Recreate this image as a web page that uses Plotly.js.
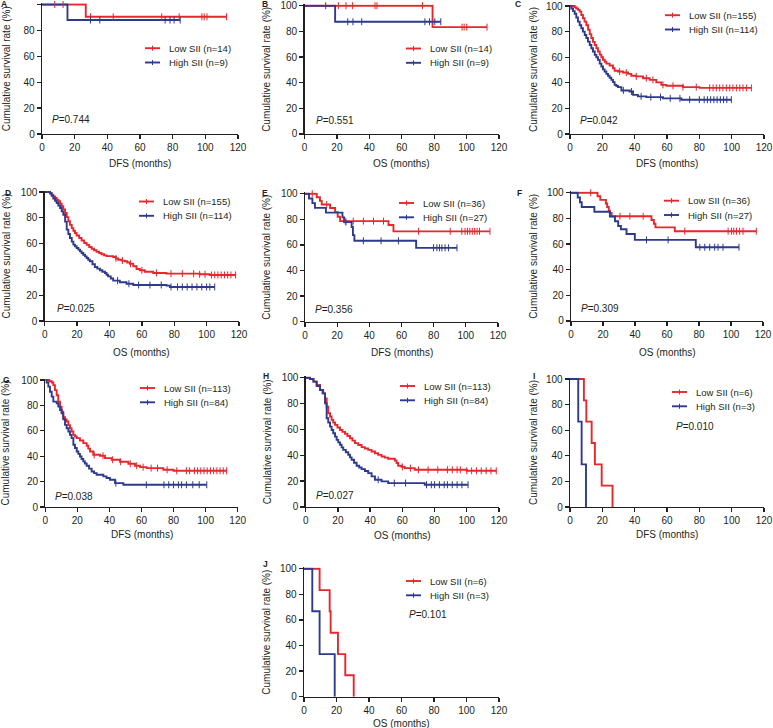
<!DOCTYPE html>
<html><head><meta charset="utf-8">
<script src="https://cdn.plot.ly/plotly-3.0.1.min.js"></script>
<style>html,body{margin:0;padding:0;background:#fff}#chart{width:773px;height:728px}</style>
</head><body><div id="chart"></div>
<script>
// ---------- DATA (months, % survival) ----------
const panel_letters = ['A','B','C','D','E','F','G','H','I','J'];
const x_titles = ['DFS (months)','OS (months)','DFS (months)','OS (months)','DFS (months)','OS (months)','DFS (months)','OS (months)','DFS (months)','OS (months)'];
const p_values = ['0.744','0.551','0.042','0.025','0.356','0.309','0.038','0.027','0.010','0.101'];
const low_n = [14,14,155,155,36,36,113,113,6,6];
const high_n = [9,9,114,114,27,27,84,84,3,3];
const x_ticks = [0,20,40,60,80,100,120];
const y_ticks = [0,20,40,60,80,100];

const A_low_t = [0, 26.8, 113];
const A_low_s = [100, 90.5, 90.5];
const A_low_c = [7.8, 12.9, 29.7, 43.6, 73.3, 84, 97.9, 99.3, 101, 113];
const A_high_t = [0, 15.6, 84.6];
const A_high_s = [100, 88, 88];
const A_high_c = [29.7, 35.4, 75.4, 78.4, 80.9, 84.6];

const B_low_t = [0, 79, 112.6];
const B_low_s = [100, 83.3, 83.3];
const B_low_c = [20.9, 25.6, 29.7, 43.5, 44.7, 72.8, 97.2, 98.5, 100.1, 112.6];
const B_high_t = [0, 18.9, 84.1];
const B_high_s = [100, 87.5, 87.5];
const B_high_c = [13.1, 26.7, 29.9, 35.3, 74.3, 77.1, 80.4, 84.1];

const C_low_t = [0, 2.9, 3.9, 5, 6, 7, 8, 9, 10.1, 11.2, 12.2, 13.2, 14.2, 15.3, 16.3, 17.3, 18.4, 19.4, 20.4, 21.5, 22.5, 24.5, 26.6, 27.6, 29.7, 32.8, 35.9, 37.9, 41, 45.2, 49.3, 53.4, 56.5, 59.6, 69.9, 80.2, 112.2];
const C_low_s = [100, 99, 98, 97, 95.6, 93, 90.4, 87.8, 85, 81.5, 78, 75, 72, 69.5, 67, 64.5, 62, 60, 58, 56.5, 55, 53.5, 51.4, 49.4, 48.8, 48, 47, 45.5, 45, 43.6, 42.3, 40.3, 38.4, 37.7, 36.6, 36, 36];
const C_low_c = [30.7, 34.8, 41, 47.2, 51.3, 57.5, 63.7, 69.9, 78.1, 86.4, 88.5, 90.5, 92.6, 94.6, 96.7, 98.8, 100.8, 102.9, 105, 107, 109.1, 112.2];
const C_high_t = [0, 0.8, 1.9, 2.9, 3.9, 4.9, 6, 7, 8, 9.1, 10.1, 11.1, 12.2, 13.2, 14.2, 15.3, 16.3, 17.3, 18.4, 19.4, 20.4, 21.4, 22.5, 23.5, 24.5, 25.6, 26.6, 27.6, 28.7, 29.7, 31.8, 36.9, 39, 42, 47.2, 57.5, 68.9, 99.8];
const C_high_s = [100, 98, 96, 94, 91, 87.8, 85, 82.6, 80, 77.4, 75, 72.2, 69.5, 67, 64.5, 61.8, 60, 57.9, 55, 52.7, 50.5, 48.8, 47, 45.5, 44, 42.3, 40.5, 38.4, 37.5, 36.6, 34, 33.2, 30.6, 29.4, 28.8, 27.8, 26.8, 26.8];
const C_high_c = [33, 38, 44, 50, 56, 62, 68, 74, 80, 83, 85, 87, 89, 91, 93, 95, 97, 99.8];

const D_low_t = [0, 3.3, 4.3, 5.3, 6.4, 7.4, 8.4, 9.5, 10.5, 11.5, 12.6, 13.6, 14.6, 15.6, 16.7, 17.7, 18.7, 19.7, 21.3, 22.8, 24.4, 25.9, 27.5, 29, 30.5, 32, 33.6, 35.1, 36.7, 38.2, 42.3, 44, 45.4, 47.5, 49.5, 51, 52.6, 54.7, 56.7, 58.8, 61.8, 67, 75.2, 95.7, 101.9, 117.9];
const D_low_s = [100, 99, 97.9, 96.6, 95.3, 94, 92.8, 91, 88.9, 86.5, 83.7, 80.5, 77.3, 74.5, 72, 70, 68.2, 66.3, 64.3, 62.4, 60.5, 59, 57.4, 56, 54.8, 53.7, 52.7, 51.8, 50.9, 50.3, 49.6, 48.5, 47.5, 46.8, 46.3, 45.3, 44.4, 42.4, 40.3, 39.3, 38.2, 37.2, 36.7, 36.2, 35.7, 35.7];
const D_low_c = [44, 48, 53, 60, 69, 78, 85, 92, 95.7, 99, 103, 105, 107, 109, 111, 113, 115, 117.9];
const D_high_t = [0, 3.3, 4.3, 5.3, 6.4, 7.4, 8.4, 9.5, 10.5, 11.5, 12.6, 13.6, 14.6, 15.6, 16.7, 17.7, 18.7, 19.7, 20.8, 21.8, 22.8, 23.8, 24.9, 25.9, 26.9, 27.9, 29.5, 31, 32.5, 34.1, 35.6, 37.2, 38.2, 39.2, 40.8, 42.3, 46.4, 50.5, 54.7, 75.2, 77.3, 105];
const D_high_s = [100, 99, 97, 95, 93.2, 91.5, 89.5, 87.6, 85, 82.4, 77, 70.8, 67.5, 64.3, 61.5, 59.2, 57.9, 56.6, 55.3, 54, 52.7, 51.4, 50.1, 48.8, 47.5, 46.3, 44, 41.9, 40.6, 39.3, 38.2, 37.2, 35.9, 34.6, 33, 31.3, 30, 28.9, 27.9, 27.4, 26.4, 26.4];
const D_high_c = [45, 52, 58, 65, 72, 78, 82, 85, 88, 91, 94, 97, 100, 102, 105];

const E_low_t = [0, 7.3, 9.3, 10.4, 15.6, 18.7, 20.3, 21.8, 51.9, 55, 115];
const E_low_s = [100, 97.2, 94.4, 91.6, 88.8, 85.6, 82, 78.6, 75.5, 70.6, 70.6];
const E_low_c = [4.5, 13.5, 25, 30, 36.3, 42.6, 48.8, 70.6, 90.3, 97.5, 99.5, 101, 102.5, 104, 105.5, 107, 108.5, 115];
const E_high_t = [0, 2.5, 4.6, 6.2, 13, 23.3, 24.3, 29, 29.8, 30.7, 69.1, 94.5];
const E_high_s = [100, 96.3, 92.6, 88.9, 85.2, 81.5, 77.8, 74, 67.6, 63.2, 57.7, 57.7];
const E_high_c = [25.5, 36.3, 47.3, 58.1, 79.9, 82, 83.6, 85.1, 87.1, 89.2, 94.5];

const F_low_t = [0, 16.6, 18.3, 21.8, 22.6, 23.6, 24.3, 25.4, 50.3, 51.8, 52.8, 64.9, 115.8];
const F_low_s = [100, 97.2, 94.4, 91.6, 88.8, 86, 84.2, 81.6, 78.7, 75.8, 73, 70, 70];
const F_low_c = [12.3, 30.6, 36.8, 45.1, 71.1, 98.2, 100.3, 101.7, 103.4, 105.4, 107.5, 115.8];
const F_high_t = [0, 4.2, 5.6, 6.7, 14.6, 24.3, 27.5, 29.5, 31.2, 34.7, 39.9, 78, 105];
const F_high_s = [100, 96.3, 92.6, 88.9, 85.2, 81.5, 77.8, 74.1, 71.5, 67.8, 63.2, 57.5, 57.5];
const F_high_c = [47.2, 60.7, 80.5, 83.6, 86.7, 89.8, 91.9, 95, 105];

const G_low_t = [0, 2.5, 4, 5, 6, 7.1, 8.1, 9.2, 10.2, 11.2, 12.3, 13.3, 14.4, 15.4, 16.4, 17.5, 18.5, 19.6, 21.6, 23.7, 25.8, 26.8, 27.9, 29.9, 34.1, 37.2, 41.4, 46.6, 51.8, 55.9, 59.1, 63.2, 73.6, 79.9, 113.1];
const G_low_s = [100, 99, 98, 96, 92, 88, 83, 79, 75, 70.7, 69, 67.3, 64.5, 62, 59.5, 56.8, 55.5, 54.2, 52.4, 50.3, 48.2, 46, 43.7, 41.1, 40.3, 38.5, 37.2, 35.6, 34, 32.5, 31.4, 30.6, 29.3, 28.5, 28.5];
const G_low_c = [30.5, 36, 42, 47, 53, 57, 61, 66, 70, 76, 82, 88, 90, 93, 95, 97, 99, 101, 103, 105, 107, 109, 111, 113.1];
const G_high_t = [0, 0.8, 1.9, 2.9, 4, 5, 7.1, 8.1, 9.2, 10.2, 11.2, 12.3, 13.3, 14.4, 15.4, 16.4, 17.5, 18.5, 19.6, 20.6, 21.6, 22.6, 23.7, 24.7, 25.8, 27.3, 28.9, 30.4, 32, 36.2, 38.2, 40.3, 43.5, 48.7, 100.7];
const G_high_s = [100, 98, 94.8, 90.8, 86.9, 83, 81.7, 79, 76.4, 73.8, 69, 64.7, 62, 59.4, 56.8, 54.2, 49, 46.4, 43.7, 41.8, 39.8, 37.8, 35.9, 34.2, 32.5, 30.2, 28, 26.7, 25.4, 24.1, 22.8, 21.5, 18.8, 17.5, 17.5];
const G_high_c = [44, 63, 74, 77, 80, 83, 85, 88, 92, 96, 100.7];

const H_low_t = [0, 2.7, 4.8, 6.8, 8.9, 10.9, 12, 13, 14, 15.1, 16.1, 17.1, 18.2, 19.7, 21.3, 22.8, 24.4, 25.9, 27.5, 29, 30.6, 32.6, 34.7, 36.7, 38.8, 40.9, 43, 45, 47.1, 49.1, 51.2, 55.3, 56.4, 57.4, 59.5, 61.5, 67.7, 100, 118.3];
const H_low_s = [100, 99, 97, 94.3, 90.5, 87.9, 84, 77.6, 72.5, 70, 67.4, 65.4, 63.5, 61.5, 59.6, 58.1, 56.6, 54.9, 53.2, 51.3, 49.4, 47.9, 46.3, 45.2, 44.2, 42.9, 41.6, 40.3, 39.1, 38.2, 37.3, 36, 34, 31.9, 31, 30.1, 28.8, 28, 28];
const H_low_c = [60, 65, 70, 76, 82, 88, 91, 94, 96, 100, 103, 106, 109, 112, 115, 118.3];
const H_high_t = [0, 2.7, 4.8, 6.8, 8.9, 10.5, 12, 13, 14, 15.1, 16.1, 17.1, 18.2, 19.2, 20.2, 21.3, 22.3, 23.3, 24.9, 26.4, 27.5, 28.5, 30, 31.6, 33.2, 34.7, 36.8, 38.8, 40.9, 43, 47.1, 51.2, 73.9, 100.8];
const H_high_s = [100, 99, 97, 93.6, 90.5, 87.9, 80.2, 68.6, 65.4, 62.2, 59.6, 57, 54.4, 51.9, 50, 48.1, 46.1, 44.2, 42.3, 40.4, 38.4, 36.5, 34.2, 31.9, 30.6, 29.3, 27.8, 26.2, 23.7, 21.1, 19.8, 18.5, 17.2, 17.2];
const H_high_c = [45, 55, 62, 75, 78, 80, 83, 86, 88, 91, 94, 97, 100.8];

const I_low_t = [0, 8.6, 10.1, 13.4, 15.4, 19.6, 26.3];
const I_low_s = [100, 83.3, 66.7, 50, 33.3, 16.7, 0];
const I_low_c = [];
const I_high_t = [0, 5.1, 7.2, 9.9];
const I_high_s = [100, 66.7, 33.3, 0];
const I_high_c = [];

const J_low_t = [0, 9.6, 15.8, 16.4, 20.9, 25.4, 30.6];
const J_low_s = [100, 83.3, 66.7, 50, 33.3, 16.7, 0];
const J_low_c = [];
const J_high_t = [0, 5.1, 9.6, 18.9];
const J_high_s = [100, 66.7, 33.3, 0];
const J_high_c = [];

// ---------- LAYOUT / STYLE ----------
const W = 773, H = 728;
const FONT = 'Liberation Sans, Arial, Helvetica, sans-serif';
const INK = '#231f20';
const RED = '#e8262c';
const BLUE = '#2e3a8c';

// pixel boxes: left (x=0), right (x=120), top (y=100), bottom (y=0)
const boxes = [
  [42, 238, 4.5, 134], [304.5, 499, 5.7, 134], [570, 764, 6, 134],
  [44.7, 239, 192, 321], [305, 498, 193.7, 321.7], [571, 763, 192.7, 321],
  [45.3, 237.7, 380, 507], [305.7, 499, 377.7, 507], [570, 764, 379, 507],
  [304, 499, 568.7, 696.7]
];
const letterPos = [[4,4],[265,4],[518,4],[8,193],[265,193],[519,193],[7,380],[266,376],[534,376],[265,564]];
const ytitleX = [6, 267, 533, 6, 267, 534, 5, 267, 534, 267];
const xtitleY = [164, 164, 164, 352, 352, 352, 534, 535, 534, 723];
const pPos = [[50,120],[314,121],[578,121],[55,308],[313,309],[579,308],[53,496],[314,495],[674,426],[407,614]];
const legText = [[167,48.2],[428,48.5],[687,15.2],[161,201.5],[421,203],[686,200.7],[162,388],[422,386],[694,392],[428,581]];
const LEG_GAP = 14.3;

const curves = [
  [A_low_t, A_low_s, A_low_c, A_high_t, A_high_s, A_high_c],
  [B_low_t, B_low_s, B_low_c, B_high_t, B_high_s, B_high_c],
  [C_low_t, C_low_s, C_low_c, C_high_t, C_high_s, C_high_c],
  [D_low_t, D_low_s, D_low_c, D_high_t, D_high_s, D_high_c],
  [E_low_t, E_low_s, E_low_c, E_high_t, E_high_s, E_high_c],
  [F_low_t, F_low_s, F_low_c, F_high_t, F_high_s, F_high_c],
  [G_low_t, G_low_s, G_low_c, G_high_t, G_high_s, G_high_c],
  [H_low_t, H_low_s, H_low_c, H_high_t, H_high_s, H_high_c],
  [I_low_t, I_low_s, I_low_c, I_high_t, I_high_s, I_high_c],
  [J_low_t, J_low_s, J_low_c, J_high_t, J_high_s, J_high_c]
];

function survAt(T, S, t) {
  let v = S[0];
  for (let i = 0; i < T.length; i++) if (T[i] <= t) v = S[i];
  return v;
}

const traces = [];
const layout = {
  width: W, height: H, margin: {l:0, r:0, t:0, b:0},
  paper_bgcolor: '#fff', plot_bgcolor: 'rgba(0,0,0,0)',
  font: {family: FONT, color: INK, size: 10},
  showlegend: false, hovermode: false,
  annotations: [], shapes: []
};

curves.forEach((c, i) => {
  const n = i + 1;
  const xa = 'x' + (n === 1 ? '' : n), ya = 'y' + (n === 1 ? '' : n);
  const xk = 'xaxis' + (n === 1 ? '' : n), yk = 'yaxis' + (n === 1 ? '' : n);
  const [L, R, T, B] = boxes[i];
  const unit = (B - T) / 100;
  const top101 = B - unit * 101;
  layout[xk] = {
    domain: [L / W, R / W], range: [0, 120], anchor: ya,
    tickmode: 'array', tickvals: x_ticks, ticktext: x_ticks.map(String),
    ticks: 'outside', ticklen: 4, tickwidth: 1.3, tickcolor: INK,
    showline: true, linewidth: 1.3, linecolor: INK,
    showgrid: false, zeroline: false, fixedrange: true,
    tickfont: {size: 10, family: FONT, color: INK}
  };
  layout[yk] = {
    domain: [1 - B / H, 1 - top101 / H], range: [0, 101], anchor: xa,
    tickmode: 'array', tickvals: y_ticks, ticktext: y_ticks.map(String),
    ticks: 'outside', ticklen: 4, tickwidth: 1.3, tickcolor: INK,
    showline: true, linewidth: 1.3, linecolor: INK,
    showgrid: false, zeroline: false, fixedrange: true,
    tickfont: {size: 10, family: FONT, color: INK}
  };

  const groups = [
    {t: c[0], s: c[1], cz: c[2], color: RED, name: 'Low SII (n=' + low_n[i] + ')'},
    {t: c[3], s: c[4], cz: c[5], color: BLUE, name: 'High SII (n=' + high_n[i] + ')'}
  ];
  groups.forEach(g => {
    traces.push({
      type: 'scatter', mode: 'lines', x: g.t, y: g.s, xaxis: xa, yaxis: ya,
      line: {color: g.color, width: 1.9, shape: 'hv'}, name: g.name
    });
  });
  groups.forEach(g => {
    if (!g.cz.length) return;
    traces.push({
      type: 'scatter', mode: 'markers', x: g.cz, y: g.cz.map(t => survAt(g.t, g.s, t)),
      xaxis: xa, yaxis: ya, cliponaxis: false, name: g.name,
      marker: {symbol: 'line-ns-open', size: 5, color: g.color, line: {width: 1, color: g.color}}
    });
  });

  // legend key (line sample with tick) + label
  const [tx, ty] = legText[i];
  groups.forEach((g, k) => {
    const ry = ty + k * LEG_GAP;
    layout.shapes.push({
      type: 'line', xref: 'paper', yref: 'paper',
      x0: (tx - 22) / W, x1: (tx - 7) / W, y0: 1 - ry / H, y1: 1 - ry / H,
      line: {color: g.color, width: 1.9}
    });
    layout.shapes.push({
      type: 'line', xref: 'paper', yref: 'paper',
      x0: (tx - 14.5) / W, x1: (tx - 14.5) / W, y0: 1 - (ry - 2.5) / H, y1: 1 - (ry + 2.5) / H,
      line: {color: g.color, width: 1}
    });
    layout.annotations.push({
      xref: 'paper', yref: 'paper', x: tx / W, y: 1 - ry / H,
      xanchor: 'left', yanchor: 'middle', showarrow: false,
      text: g.name, font: {size: 9.5, family: FONT, color: INK}
    });
  });

  // annotations
  layout.annotations.push({
    xref: 'paper', yref: 'paper', x: letterPos[i][0] / W, y: 1 - letterPos[i][1] / H,
    xanchor: 'center', yanchor: 'middle', showarrow: false,
    text: '<b>' + panel_letters[i] + '</b>', font: {size: 8.5, family: FONT, color: INK}
  });
  layout.annotations.push({
    xref: 'paper', yref: 'paper', x: ((L + R) / 2) / W, y: 1 - xtitleY[i] / H,
    xanchor: 'center', yanchor: 'middle', showarrow: false,
    text: x_titles[i], font: {size: 10, family: FONT, color: INK}
  });
  layout.annotations.push({
    xref: 'paper', yref: 'paper', x: ytitleX[i] / W, y: 1 - ((T + B) / 2) / H,
    xanchor: 'center', yanchor: 'middle', showarrow: false, textangle: -90,
    text: 'Cumulative survival rate (%)', font: {size: 10, family: FONT, color: INK}
  });
  layout.annotations.push({
    xref: 'paper', yref: 'paper', x: pPos[i][0] / W, y: 1 - pPos[i][1] / H,
    xanchor: 'left', yanchor: 'middle', showarrow: false,
    text: '<i>P</i>=' + p_values[i], font: {size: 10, family: FONT, color: INK}
  });
});

Plotly.newPlot('chart', traces, layout, {staticPlot: true, displayModeBar: false});
</script></body></html>
